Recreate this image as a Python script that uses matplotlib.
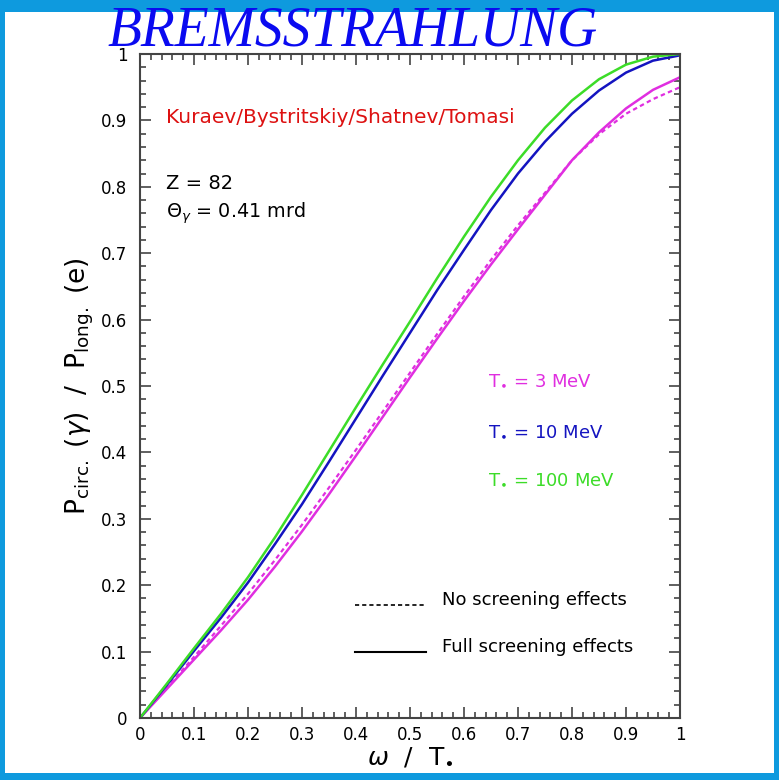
import matplotlib
matplotlib.use("Agg")
import matplotlib.pyplot as plt
from matplotlib.patches import Rectangle
from matplotlib.ticker import MultipleLocator, FuncFormatter

# values
x = [0.0, 0.05, 0.1, 0.15, 0.2, 0.25, 0.3, 0.35, 0.4, 0.45, 0.5,
     0.55, 0.6, 0.65, 0.7, 0.75, 0.8, 0.85, 0.9, 0.95, 1.0]
p_100mev = [0.0, 0.052, 0.105, 0.157, 0.212, 0.272, 0.336, 0.402, 0.468, 0.533, 0.597,
            0.662, 0.725, 0.785, 0.840, 0.889, 0.930, 0.962, 0.984, 0.996, 1.0]
p_10mev = [0.0, 0.050, 0.101, 0.151, 0.204, 0.262, 0.322, 0.386, 0.451, 0.516, 0.580,
           0.644, 0.705, 0.765, 0.820, 0.868, 0.910, 0.945, 0.972, 0.990, 0.998]
p_3mev = [0.0, 0.044, 0.088, 0.132, 0.178, 0.228, 0.281, 0.337, 0.395, 0.454, 0.513,
          0.571, 0.628, 0.683, 0.736, 0.788, 0.840, 0.882, 0.918, 0.946, 0.965]
p_3mev_noscr = [0.0, 0.046, 0.092, 0.139, 0.187, 0.238, 0.291, 0.347, 0.404, 0.462, 0.520,
                0.578, 0.635, 0.690, 0.742, 0.791, 0.840, 0.879, 0.910, 0.932, 0.950]

magenta = "#e02ee0"
blue = "#1414c0"
green = "#3cdc28"
frame = "#0e9ade"

fig = plt.figure(figsize=(7.79, 7.80), dpi=100)
fig.patch.set_facecolor(frame)
fig.patches.append(Rectangle((5 / 779, 7 / 780), 769 / 779, 761 / 780,
                             transform=fig.transFigure, facecolor="white",
                             edgecolor="none", zorder=-5))

ax = fig.add_axes([140 / 779, 62 / 780, 540 / 779, 664 / 780])
ax.set_zorder(2)
ax.patch.set_alpha(0)
ax.plot(x, p_3mev_noscr, color=magenta, lw=1.6, ls=(0, (2, 1.5)))
ax.plot(x, p_3mev, color=magenta, lw=1.8)
ax.plot(x, p_10mev, color=blue, lw=1.8)
ax.plot(x, p_100mev, color=green, lw=1.8)

ax.set_xlim(0, 1)
ax.set_ylim(0, 1)
for a in (ax.xaxis, ax.yaxis):
    a.set_major_locator(MultipleLocator(0.1))
    a.set_minor_locator(MultipleLocator(0.02))
    a.set_major_formatter(FuncFormatter(lambda v, p: "%g" % round(v, 2)))
ax.tick_params(which="both", direction="in", top=True, right=True,
               color="#444444", width=1.2, labelsize=12)
ax.tick_params(which="major", length=8, pad=6)
ax.tick_params(axis="y", which="major", pad=9)
ax.tick_params(which="minor", length=4.5)
for s in ax.spines.values():
    s.set_color("#444444")
    s.set_linewidth(1.5)

ax.set_xlabel(r"$\omega$  /  T$_{\bullet}$", fontsize=18, labelpad=0)
ax.set_ylabel(r"P$_{\rm circ.}$ ($\gamma$)  /  P$_{\rm long.}$ (e)", fontsize=19,
              labelpad=4)

ax.text(0.048, 0.905, "Kuraev/Bystritskiy/Shatnev/Tomasi", color="#dd1111",
        fontsize=14.5, transform=ax.transAxes, va="center")
ax.text(0.048, 0.805, "Z = 82", fontsize=14, transform=ax.transAxes, va="center")
ax.text(0.048, 0.76, r"$\Theta_\gamma$ = 0.41 mrd", fontsize=13.8,
        transform=ax.transAxes, va="center")

ax.text(0.645, 0.508, r"T$_{\bullet}$ = 3 MeV", color=magenta, fontsize=13,
        transform=ax.transAxes, va="center")
ax.text(0.645, 0.432, r"T$_{\bullet}$ = 10 MeV", color=blue, fontsize=13,
        transform=ax.transAxes, va="center")
ax.text(0.645, 0.360, r"T$_{\bullet}$ = 100 MeV", color=green, fontsize=13,
        transform=ax.transAxes, va="center")

ax.plot([0.398, 0.530], [0.170, 0.170], color="black", lw=1.2, ls=(0, (2.5, 1.8)),
        transform=ax.transAxes)
ax.plot([0.398, 0.530], [0.099, 0.099], color="black", lw=1.5,
        transform=ax.transAxes)
ax.text(0.559, 0.177, "No screening effects", fontsize=13,
        transform=ax.transAxes, va="center")
ax.text(0.559, 0.107, "Full screening effects", fontsize=13,
        transform=ax.transAxes, va="center")

fig.text(107 / 779, 1 - 45 / 780, "BREMSSTRAHLUNG", color="#0a0af0",
         fontsize=40, family="Liberation Serif", style="italic",
         va="baseline", zorder=5)

fig.savefig("out.png", dpi=100, facecolor=fig.get_facecolor())
